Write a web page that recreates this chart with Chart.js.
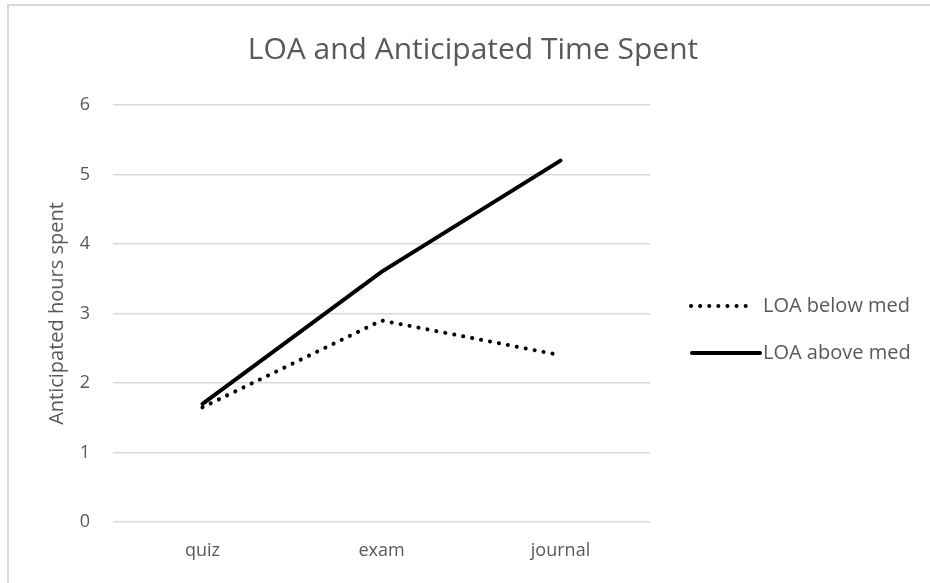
<!DOCTYPE html>
<html>
<head>
<meta charset="utf-8">
<script src="https://cdn.jsdelivr.net/npm/chart.js@4"></script>
<style>
  html, body { margin: 0; padding: 0; background: #fff; }
  #wrap { position: relative; width: 930px; height: 583px; overflow: hidden; }
  #frame { position: absolute; left: 7px; top: 4px; right: -10px; bottom: -10px;
           border-left: 2px solid #d9d9d9; border-top: 2px solid #d9d9d9; pointer-events: none; }
</style>
</head>
<body>
<div id="wrap">
  <canvas id="loaChart" width="930" height="583"></canvas>
  <div id="frame"></div>
</div>
<script>
const categories = ["quiz", "exam", "journal"];
const belowMed = [1.65, 2.9, 2.4];
const aboveMed = [1.7, 3.6, 5.2];
const seriesNames = ["LOA below med", "LOA above med"];
const yTicks = [0, 1, 2, 3, 4, 5, 6];
const chartTitle = "LOA and Anticipated Time Spent";

const grey = "#595959";
const font = "'Open Sans', sans-serif";

// title and legend drawn by hand so they sit where the original ones do
const extras = {
    id: "extras",
    afterDraw(chart) {
        const ctx = chart.ctx;

        ctx.save();
        ctx.fillStyle = grey;
        ctx.font = "30px " + font;
        ctx.textAlign = "center";
        ctx.textBaseline = "middle";
        ctx.fillText(chartTitle, 473, 50);
        ctx.restore();

        const rows = [306, 353];
        chart.data.datasets.forEach((ds, i) => {
            const y = rows[i];
            ctx.save();
            ctx.strokeStyle = ds.borderColor;
            ctx.lineWidth = ds.borderWidth;
            ctx.lineCap = ds.borderCapStyle;
            ctx.setLineDash(ds.borderDash || []);
            ctx.beginPath();
            ctx.moveTo(i === 0 ? 691 : 692, y);
            ctx.lineTo(i === 0 ? 752 : 760, y);
            ctx.stroke();
            ctx.restore();

            ctx.save();
            ctx.fillStyle = grey;
            ctx.font = "20px " + font;
            ctx.textBaseline = "middle";
            ctx.fillText(ds.label, 763, y);
            ctx.restore();
        });
    },
};

new Chart(document.getElementById("loaChart"), {
    type: "line",

    data: {
        labels: categories,

        datasets: [
            {
                label: seriesNames[0],
                data: belowMed,
                borderColor: "#000",
                borderWidth: 4,
                borderDash: [0.1, 9],
                borderCapStyle: "round",
                pointRadius: 0,
                tension: 0,
            },
            {
                label: seriesNames[1],
                data: aboveMed,
                borderColor: "#000",
                borderWidth: 4,
                borderCapStyle: "round",
                pointRadius: 0,
                tension: 0,
            },
        ],
    },

    options: {
        responsive: false,
        animation: false,

        layout: {
            padding: { left: 0, right: 280, top: 105, bottom: 0 },
        },

        plugins: {
            legend: { display: false },
            tooltip: { enabled: false },
            title: { display: false },
        },

        scales: {
            x: {
                offset: true,
                grid: { display: false, drawTicks: false },
                border: { display: false },
                ticks: {
                    color: grey,
                    font: { family: font, size: 18 },
                    padding: 18,
                },
                afterFit(scale) {
                    scale.height = 61;
                },
            },

            y: {
                min: 0,
                max: 6,
                grid: { color: "#d9d9d9", lineWidth: 1.5, drawTicks: false },
                border: { display: false },
                afterBuildTicks(scale) {
                    scale.ticks = yTicks.map(v => ({ value: v }));
                },
                ticks: {
                    color: grey,
                    font: { family: font, size: 18 },
                    padding: 23,
                },
                title: {
                    display: true,
                    text: "Anticipated hours spent",
                    color: grey,
                    font: { family: font, size: 20 },
                    padding: { top: 45, bottom: 0 },
                },
                afterFit(scale) {
                    scale.width = 113;
                },
            },
        },
    },

    plugins: [extras],
});
</script>
</body>
</html>
